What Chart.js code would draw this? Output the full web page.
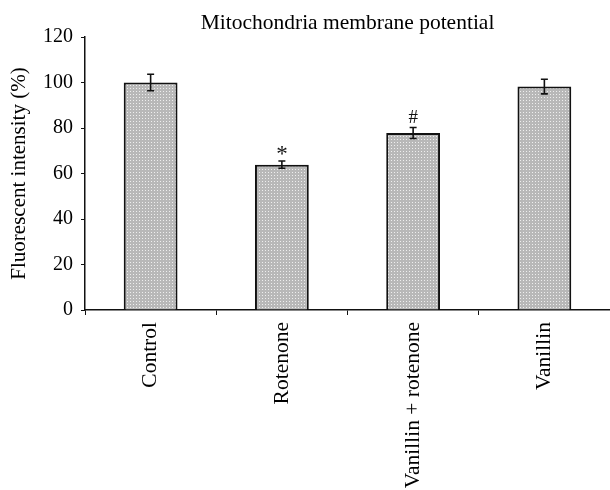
<!DOCTYPE html>
<html>
<head>
<meta charset="utf-8">
<script src="https://cdn.jsdelivr.net/npm/chart.js@4/dist/chart.umd.min.js"></script>
<style>
  html, body { margin: 0; padding: 0; background: #fff; }
  #wrap { width: 610px; height: 490px; position: relative; }
</style>
</head>
<body>
<div id="wrap"><canvas id="chart"></canvas></div>
<script>
// ── Data ──────────────────────────────────────────────────────────
const categories = ['Control', 'Rotenone', 'Vanillin + rotenone', 'Vanillin'];
const intensity = [100, 63.9, 77.8, 98.2];
const errors = [3.6, 1.6, 2.4, 3.2];
const marks = ['', '*', '#', ''];
const yTicks = [0, 20, 40, 60, 80, 100, 120];

const SERIF = '"Liberation Serif", "Times New Roman", serif';

// dotted grey fill like the original
function dotPattern() {
    const c = document.createElement('canvas');
    c.width = 3; c.height = 3;
    const g = c.getContext('2d');
    g.fillStyle = '#b8b8b8';
    g.fillRect(0, 0, 3, 3);
    g.fillStyle = '#eeeeee';
    g.fillRect(1, 1, 1, 1);
    return g.createPattern(c, 'repeat');
}

// error bars + significance marks
const errorBars = {
    id: 'errorBars',
    afterDatasetsDraw(chart) {
        const ctx = chart.ctx;
        const meta = chart.getDatasetMeta(0);
        const y = chart.scales.y;
        ctx.save();
        ctx.strokeStyle = '#111';
        ctx.lineWidth = 1.6;
        meta.data.forEach((bar, i) => {
            const x = bar.x;
            const top = y.getPixelForValue(intensity[i] + errors[i]);
            const bot = y.getPixelForValue(intensity[i] - errors[i]);
            ctx.beginPath();
            ctx.moveTo(x, top); ctx.lineTo(x, bot);
            ctx.moveTo(x - 3.5, top); ctx.lineTo(x + 3.5, top);
            ctx.moveTo(x - 3.5, bot); ctx.lineTo(x + 3.5, bot);
            ctx.stroke();
            if (marks[i]) {
                const star = marks[i] === '*';
                ctx.fillStyle = '#111';
                ctx.font = (star ? '23px ' : '19px ') + SERIF;
                ctx.textAlign = 'center';
                ctx.textBaseline = 'alphabetic';
                ctx.fillText(marks[i], x, top - (star ? 0 : 5));
            }
        });
        ctx.restore();
    }
};

// title centred over the plot area
const plotTitle = {
    id: 'plotTitle',
    afterDraw(chart) {
        const ctx = chart.ctx;
        const a = chart.chartArea;
        ctx.save();
        ctx.fillStyle = '#000';
        ctx.font = '21.5px ' + SERIF;
        ctx.textAlign = 'center';
        ctx.textBaseline = 'alphabetic';
        ctx.fillText('Mitochondria membrane potential', (a.left + a.right) / 2, 29);
        ctx.restore();
    }
};

const ctx = document.getElementById('chart');

new Chart(ctx, {
    type: 'bar',
    data: {
        labels: categories,
        datasets: [{
            data: intensity,
            backgroundColor: dotPattern(),
            borderColor: '#111',
            borderWidth: 2,
            borderSkipped: 'bottom',
            categoryPercentage: 1,
            barPercentage: 0.41,
        }]
    },
    options: {
        responsive: true,
        maintainAspectRatio: false,
        animation: false,
        devicePixelRatio: 1,
        layout: { padding: { top: 37, right: 0, left: 0, bottom: 0 } },
        plugins: {
            legend: { display: false },
            tooltip: { enabled: false },
            title: { display: false },
        },
        scales: {
            x: {
                offset: true,
                grid: {
                    offset: true,
                    drawOnChartArea: false,
                    drawTicks: true,
                    tickLength: 5,
                    color: '#111',
                },
                border: { display: true, color: '#111', width: 1.5 },
                ticks: {
                    color: '#000',
                    font: { family: SERIF, size: 21.5 },
                    minRotation: 90,
                    maxRotation: 90,
                    autoSkip: false,
                    padding: 7,
                },
                afterFit: s => { s.height = 180; },
            },
            y: {
                min: 0,
                max: 120,
                afterBuildTicks: s => { s.ticks = yTicks.map(v => ({ value: v })); },
                grid: {
                    drawOnChartArea: false,
                    drawTicks: true,
                    tickLength: 4,
                    color: '#111',
                },
                border: { display: true, color: '#111', width: 1.5 },
                ticks: {
                    color: '#000',
                    font: { family: SERIF, size: 20 },
                    padding: 8,
                },
                title: {
                    display: true,
                    text: 'Fluorescent intensity (%)',
                    color: '#000',
                    font: { family: SERIF, size: 21 },
                    padding: { top: 7, bottom: 0 },
                },
                afterFit: s => { s.width = 85; },
            }
        }
    },
    plugins: [errorBars, plotTitle]
});
</script>
</body>
</html>
